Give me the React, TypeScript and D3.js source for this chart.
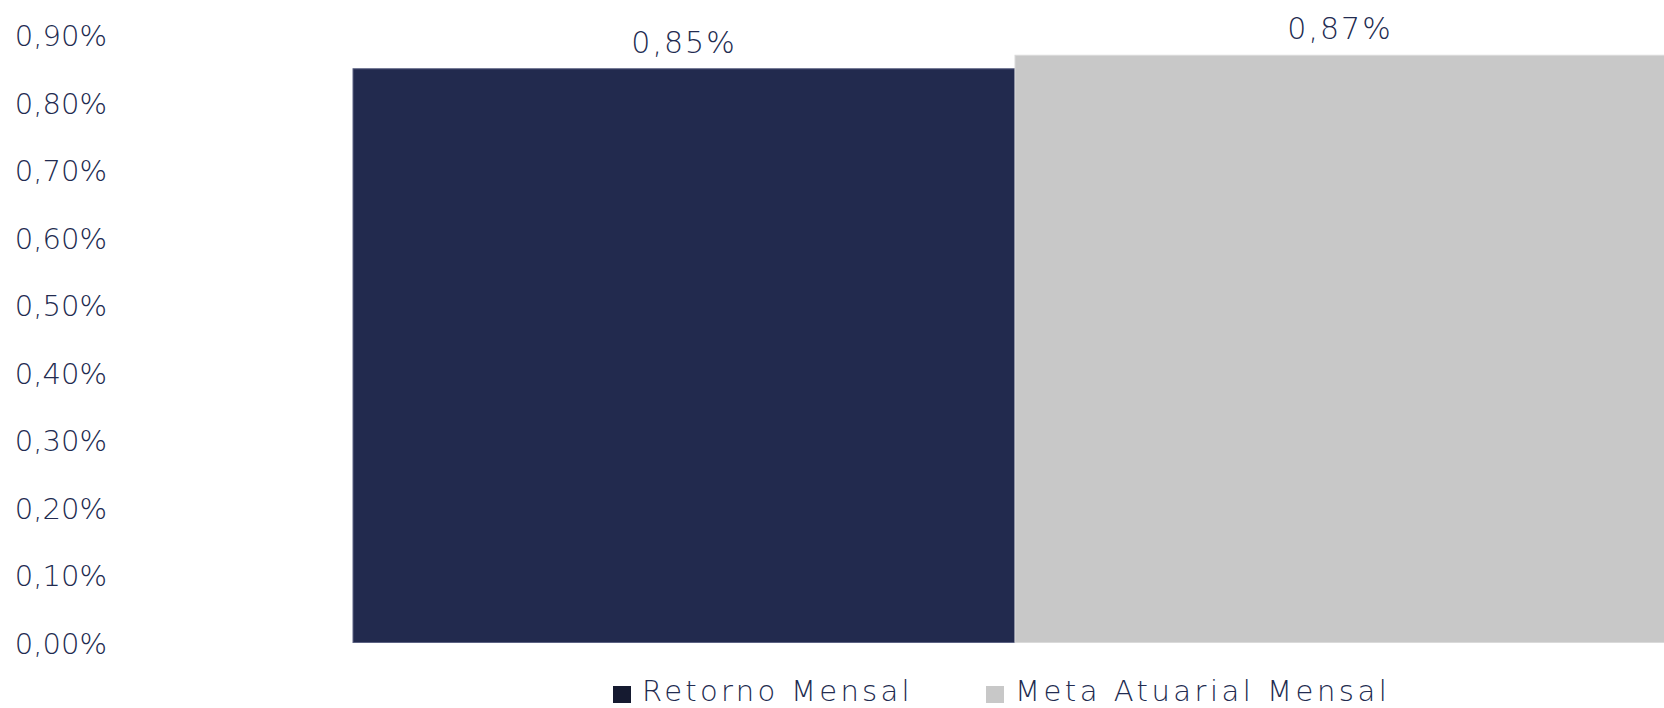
import React from "react";
import * as d3 from "d3";

const categories = ["Retorno Mensal", "Meta Atuarial Mensal"];
const values = [0.85, 0.87];
const valueLabels = ["0,85%", "0,87%"];
const tickValues = [0, 0.1, 0.2, 0.3, 0.4, 0.5, 0.6, 0.7, 0.8, 0.9];
const tickLabels = ["0,00%", "0,10%", "0,20%", "0,30%", "0,40%", "0,50%", "0,60%", "0,70%", "0,80%", "0,90%"];
const colors = ["#222A4E", "#C8C8C8"];
const legendColors = ["#151A30", "#C8C8C8"];

const W = 1664;
const H = 708;
const FONT = "'DejaVu Sans', sans-serif";
const TEXT = "#222B50";

export default function App() {
  const x = d3.scaleBand<string>().domain(categories).range([353, 1677]).padding(0);
  const y = d3.scaleLinear().domain([0, 0.9]).range([642.5, 35]);

  return (
    <svg width={W} height={H} style={{ position: "absolute", left: 0, top: 0, background: "#fff" }}>
      {tickValues.map((t, i) => (
        <text key={i} x={107} y={y(t) + 11} textAnchor="end" fontFamily={FONT} fontSize={29} fontWeight={300} fill={TEXT}>
          {tickLabels[i]}
        </text>
      ))}
      {categories.map((c, i) => (
        <rect
          key={c}
          x={x(c)!}
          y={y(values[i])}
          width={x.bandwidth()}
          height={y(0) - y(values[i])}
          fill={colors[i]}
          stroke={i === 0 ? "#5C6283" : "#DADADA"}
          strokeWidth={1}
        />
      ))}
      {categories.map((c, i) => (
        <text
          key={"l" + c}
          x={x(c)! + x.bandwidth() / 2 - (i === 1 ? 6 : 0)}
          y={y(values[i]) - 16}
          textAnchor="middle"
          fontFamily={FONT}
          fontSize={30}
          fontWeight={300}
          letterSpacing={2}
          fill={TEXT}
        >
          {valueLabels[i]}
        </text>
      ))}
      {categories.map((c, i) => {
        const lx = i === 0 ? 613 : 986;
        return (
          <g key={"lg" + c}>
            <rect x={lx} y={686} width={18} height={17} fill={legendColors[i]} />
            <text x={lx + 29} y={701} fontFamily={FONT} fontSize={29} fontWeight={300} letterSpacing={i === 0 ? 3.3 : 3.5} fill={TEXT}>
              {c}
            </text>
          </g>
        );
      })}
    </svg>
  );
}
